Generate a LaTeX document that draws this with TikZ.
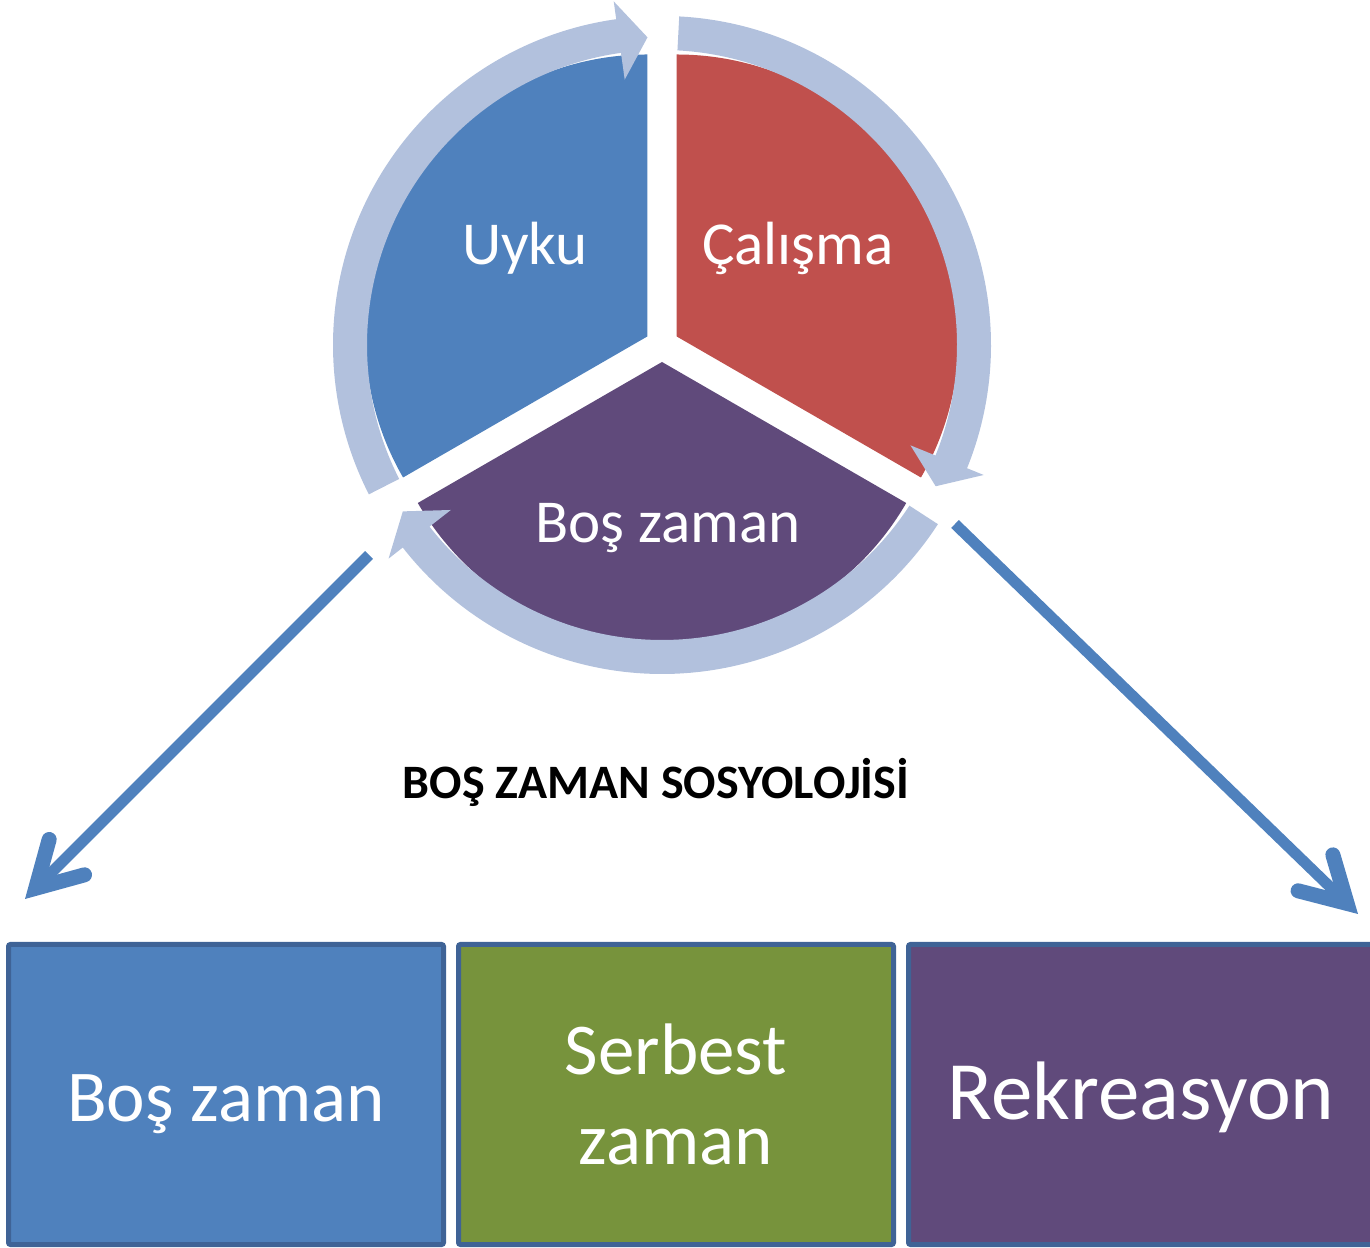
\documentclass[tikz,border=0pt]{standalone}
\usepackage{fontspec}
\setmainfont{Carlito}
\usepackage{tikz}
\usetikzlibrary{arrows.meta}
\definecolor{uykumavi}{HTML}{4F81BD}
\definecolor{calismakirmizi}{HTML}{C0504D}
\definecolor{bosmor}{HTML}{604A7B}
\definecolor{serbestyesil}{HTML}{77933C}
\definecolor{halka}{HTML}{B2C1DD}
\definecolor{kutukenar}{HTML}{3F6396}

\begin{document}
\begin{tikzpicture}[x=1pt,y=1pt,
  etiket/.style={text=white,anchor=base,inner sep=0pt,font=\fontsize{61}{72}\selectfont},
  kutu/.style={draw=kutukenar,line width=5pt,rounded corners=2pt,minimum width=435pt,minimum height=300pt,inner sep=0pt},
  kututext/.style={text=white,anchor=base,inner sep=0pt,align=center,font=\fontsize{73}{90}\selectfont},
  okcizgi/.style={uykumavi,line width=11pt,-{Straight Barb[length=44pt,width=50pt,line width=4pt 1,line cap=round,line join=miter]}}]
\useasboundingbox (0,0) rectangle (1370,1247);

% pasta
\begin{scope}[shift={(662,902)}]
\fill[uykumavi,shift={(150:17)}] (0,0) -- (90:282) arc[start angle=90,end angle=210,radius=282] -- cycle;
\fill[calismakirmizi,shift={(30:17)}] (0,0) -- (-30:282) arc[start angle=-30,end angle=90,radius=282] -- cycle;
\fill[bosmor,shift={(270:17)}] (0,0) -- (210:282) arc[start angle=210,end angle=330,radius=282] -- cycle;
% halka oklari
\foreach \a in {207,87,-33} {
  \fill[halka] (\a:295) arc[start angle=\a,end angle=\a-109,radius=295] -- ({\a-109}:268) -- ({\a-114.3}:308)
    -- ({\a-109}:347) -- ({\a-109}:329) arc[start angle=\a-109,end angle=\a,radius=329] -- cycle;
}
\end{scope}

\node[etiket] (uyku) at (525,982) {Uyku};
\node[etiket] (calisma) at (798,982) {Çalışma};
\node[etiket] (boszaman) at (668,704) {Boş zaman};

\node[anchor=base,inner sep=0pt,font=\fontsize{48}{56}\selectfont\bfseries] (baslik) at (656,448) {BOŞ ZAMAN SOSYOLOJİSİ};

% kutular
\node[kutu,fill=uykumavi] (kutu1) at (226,152.5) {};
\node[kutu,fill=serbestyesil] (kutu2) at (676,152.5) {};
\node[kutu,fill=bosmor,minimum width=465pt] (kutu3) at (1141,152.5) {};
\node[kututext] (bos) at (226,125) {Boş zaman};
\node[kututext] (serbest) at (676,82) {Serbest\\zaman};
\node[kututext,font=\fontsize{83}{100}\selectfont] (rekreasyon) at (1141,127) {Rekreasyon};

% oklar
\coordinate (solbas) at (369,692);
\coordinate (soluc) at (25,348);
\coordinate (sagbas) at (955,723);
\coordinate (saguc) at (1358,333);
\draw[okcizgi] (solbas) -- (soluc);
\draw[okcizgi] (sagbas) -- (saguc);
\end{tikzpicture}
\end{document}
